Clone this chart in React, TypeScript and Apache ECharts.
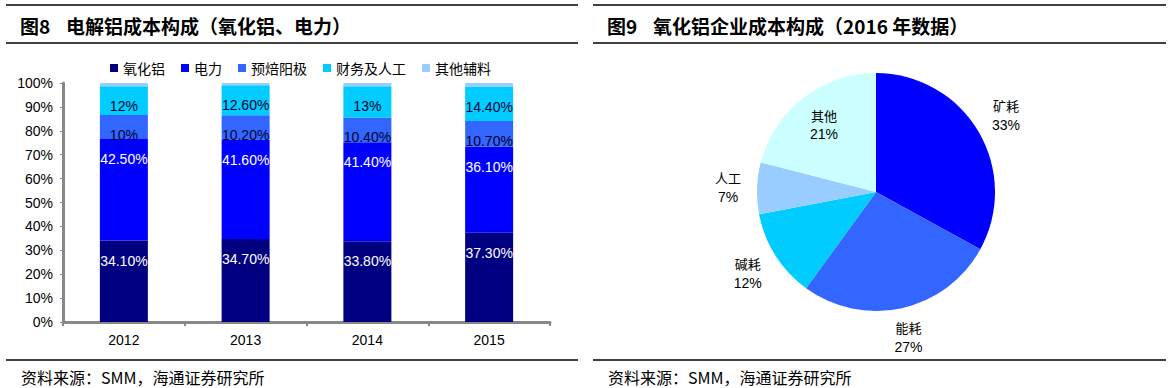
import React, { useEffect, useRef } from "react";
import * as echarts from "echarts";

const years = ["2012", "2013", "2014", "2015"];
const alumina = [34.1, 34.7, 33.8, 37.3];
const power = [42.5, 41.6, 41.4, 36.1];
const anode = [10, 10.2, 10.4, 10.7];
const finance = [12, 12.6, 13, 14.4];
const other = [1.4, 0.9, 1.4, 1.5];
const barNames = ["氧化铝", "电力", "预焙阳极", "财务及人工", "其他辅料"];
const barColors = ["#000080", "#0000FF", "#3366FF", "#00CCFF", "#99CCFF"];

const pieNames = ["矿耗", "能耗", "碱耗", "人工", "其他"];
const pieValues = [33, 27, 12, 7, 21];
const pieColors = ["#0000FF", "#3366FF", "#00CCFF", "#99CCFF", "#CCFFFF"];

const CJK = '"Noto Sans CJK SC", "Liberation Sans", sans-serif';
const NUM = '"Liberation Sans", Arial, sans-serif';

function fmtPct(v: number) {
  return Number.isInteger(v) ? `${v}%` : `${v.toFixed(2)}%`;
}

export default function App() {
  const ref = useRef<HTMLDivElement>(null);
  useEffect(() => {
    const chart = echarts.init(ref.current!, null, { renderer: "svg" });
    const cx = 876, cy = 192, R = 119;
    const total = pieValues.reduce((a, b) => a + b, 0);
    const mids: number[] = [];
    let acc = 0;
    pieValues.forEach((v) => {
      mids.push(((acc + v / 2) / total) * Math.PI * 2);
      acc += v;
    });
    const labelDist = [151, 149, 152, 148, 85];

    const barData = [alumina, power, anode, finance, other];
    const series: any[] = barData.map((arr, i) => ({
      type: "bar",
      name: barNames[i],
      stack: "total",
      data: arr,
      barWidth: 48,
      itemStyle: { color: barColors[i] },
      label: {
        show: i < 4,
        position: "insideTop",
        distance: 13,
        fontFamily: NUM,
        fontSize: 14,
        color: i < 2 ? "#FFFFFF" : "#000033",
        formatter: (p: any) => fmtPct(p.value),
      },
    }));
    series.push({
      type: "pie",
      center: [cx, cy],
      radius: R,
      startAngle: 90,
      clockwise: true,
      data: pieNames.map((n, i) => ({ name: n, value: pieValues[i], itemStyle: { color: pieColors[i] } })),
      label: {
        show: true,
        position: "inside",
        formatter: "{n|{b}}\n{v|{c}%}",
        rich: {
          n: { fontFamily: CJK, fontSize: 13, color: "#000", lineHeight: 19, align: "center" },
          v: { fontFamily: NUM, fontSize: 14, color: "#000", lineHeight: 19, align: "center" },
        },
      },
      labelLine: { show: false },
      labelLayout: (p: any) => {
        const i = p.dataIndex;
        const a = mids[i];
        return {
          x: cx + labelDist[i] * Math.sin(a),
          y: cy - labelDist[i] * Math.cos(a),
          align: "center",
          verticalAlign: "middle",
        };
      },
    });

    const line = (x1: number, x2: number, y: number) => ({
      type: "line",
      shape: { x1, y1: y, x2, y2: y },
      style: { stroke: "#000", lineWidth: 1.5 },
    });
    const titleText = (x: number, a: string, b: string) => ({
      type: "text",
      x,
      y: 25,
      style: {
        text: `{a|${a}}{b|${b}}`,
        verticalAlign: "middle",
        rich: {
          a: { fontFamily: CJK, fontSize: 19, fontWeight: "bold", color: "#000", width: 46 },
          b: { fontFamily: CJK, fontSize: 19, fontWeight: "bold", color: "#000" },
        },
      },
    });
    const srcText = (x: number) => ({
      type: "text",
      x,
      y: 377,
      style: {
        text: "资料来源：SMM，海通证券研究所",
        fontFamily: CJK,
        fontSize: 16,
        fill: "#000",
        verticalAlign: "middle",
      },
    });

    chart.setOption({
      animation: false,
      backgroundColor: "#FFFFFF",
      legend: {
        data: barNames,
        left: 105,
        top: 56,
        icon: "rect",
        itemWidth: 8,
        itemHeight: 8,
        itemGap: 16,
        textStyle: { fontFamily: CJK, fontSize: 14, color: "#000" },
      },
      grid: { left: 63, top: 83, width: 487, height: 239 },
      xAxis: {
        type: "category",
        data: years,
        axisLine: { lineStyle: { color: "#888", width: 3 } },
        axisTick: { show: true, length: 4, lineStyle: { color: "#888", width: 2 } },
        axisLabel: { fontFamily: NUM, fontSize: 14, color: "#000", margin: 11 },
      },
      yAxis: {
        type: "value",
        min: 0,
        max: 100,
        interval: 10,
        axisLine: { show: true, lineStyle: { color: "#888", width: 3 } },
        axisTick: { show: true, length: 3, lineStyle: { color: "#888", width: 1 } },
        splitLine: { show: false },
        axisLabel: { fontFamily: NUM, fontSize: 14, color: "#000", margin: 10, formatter: "{value}%" },
      },
      series,
      graphic: [
        line(6, 578, 5),
        line(6, 578, 43),
        line(6, 578, 360),
        line(593, 1166, 5),
        line(593, 1166, 43),
        line(593, 1166, 360),
        titleText(20, "图8", "电解铝成本构成（氧化铝、电力）"),
        titleText(607, "图9", "氧化铝企业成本构成（2016 年数据）"),
        srcText(21),
        srcText(608),
      ],
    });
    return () => chart.dispose();
  }, []);
  return (
    <div
      ref={ref}
      style={{ position: "fixed", left: 0, top: 0, width: 1174, height: 388, background: "#fff" }}
    />
  );
}
